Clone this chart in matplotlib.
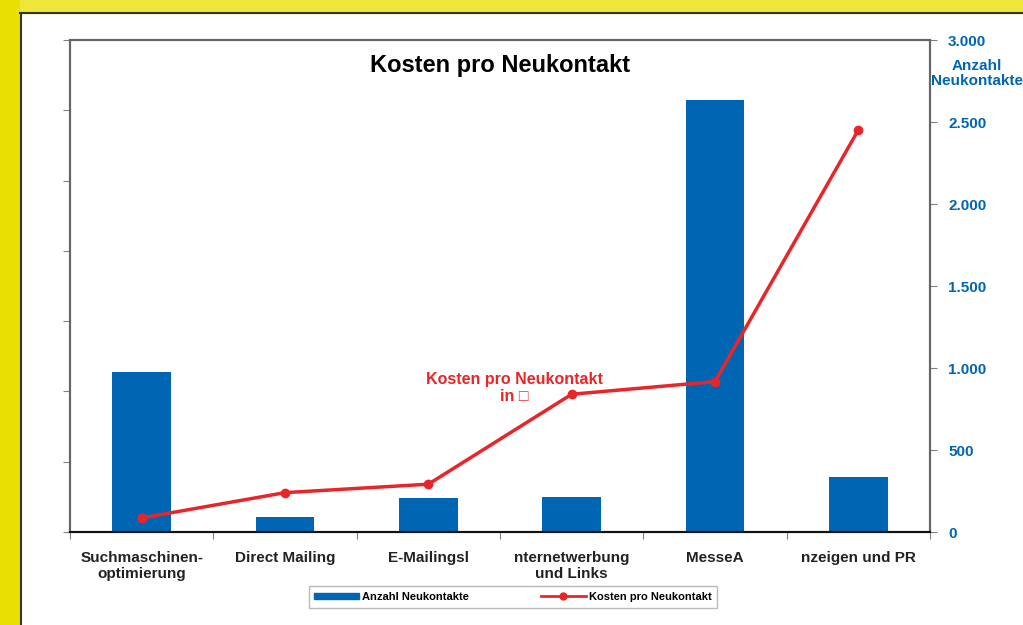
import matplotlib
matplotlib.use("Agg")
import matplotlib.pyplot as plt
from matplotlib.patches import Rectangle
from matplotlib.ticker import FuncFormatter, MultipleLocator

plt.rcParams["font.family"] = ["Liberation Sans", "DejaVu Sans"]

categories = ["Suchmaschinen-\noptimierung", "Direct Mailing", "E-Mailingsl",
              "nternetwerbung\nund Links", "MesseA", "nzeigen und PR"]
neukontakte = [978, 92, 208, 214, 2633, 336]
kosten = [10, 28, 34, 98, 107, 286]

blue = "#0066b3"
red = "#e8262a"

fig = plt.figure(figsize=(10.23, 6.25), dpi=100)

# yellow frame
fig.patches.append(Rectangle((0, 0), 20 / 1023, 1, transform=fig.transFigure,
                             color="#e8e000", zorder=0))
fig.patches.append(Rectangle((20 / 1023, 612 / 625), 1, 13 / 625, transform=fig.transFigure,
                             color="#efe63c", zorder=0))
fig.add_artist(plt.Line2D([20.5 / 1023, 20.5 / 1023], [0, 612 / 625], color="#333333", lw=1.5))
fig.add_artist(plt.Line2D([20 / 1023, 1], [612 / 625, 612 / 625], color="#333333", lw=1.5))

ax = fig.add_axes([70 / 1023, 1 - 532 / 625, 860 / 1023, 492 / 625])
ax2 = ax.twinx()

x = range(len(categories))
ax2.bar(x, neukontakte, width=0.41, color=blue, zorder=2)
ax2.set_ylim(0, 3000)
ax2.yaxis.set_major_locator(MultipleLocator(500))
ax2.yaxis.set_major_formatter(FuncFormatter(lambda v, p: f"{int(v):,}".replace(",", ".")))
ax2.tick_params(axis="y", colors="#808080", labelcolor=blue, labelsize=11, direction="out",
                length=5, pad=8)
for t in ax2.get_yticklabels():
    t.set_fontweight("bold")

ax.set_zorder(ax2.get_zorder() + 1)
ax.patch.set_visible(False)
ax.plot(x, kosten, color=red, lw=2.5, marker="o", markersize=6, zorder=3)
ax.set_ylim(0, 350)
ax.yaxis.set_major_locator(MultipleLocator(50))
ax.set_yticklabels([])
ax.tick_params(axis="y", colors="#808080", length=5, direction="out")

ax.set_xlim(-0.5, len(categories) - 0.5)
ax.set_xticks([i - 0.5 for i in range(len(categories) + 1)], minor=False)
ax.set_xticklabels([])
ax.set_xticks(list(x), minor=True)
ax.set_xticklabels(categories, minor=True, fontsize=11, fontweight="bold", color="#222222",
                   linespacing=1.1)
ax.tick_params(axis="x", which="major", length=5, colors="#808080")
ax.tick_params(axis="x", which="minor", length=0, pad=14)

for a in (ax, ax2):
    for s in a.spines.values():
        s.set_color("#666666")
        s.set_linewidth(1.5)
    a.spines["bottom"].set_color("#111111")

ax.set_title("Kosten pro Neukontakt", fontsize=17, fontweight="bold", pad=-23, y=1.0)
ax.text(1.055, 0.932, "Anzahl\nNeukontakte", transform=ax.transAxes,
        ha="center", va="center", fontsize=11, fontweight="bold", color=blue,
        linespacing=1.15, clip_on=False)
ax.text(2.6, 91, "Kosten pro Neukontakt\nin \u25a1", ha="center", va="bottom",
        fontsize=11.5, fontweight="bold", color=red, linespacing=1.2)

# legend
bar_h = Rectangle((0, 0), 1, 1, color=blue)
line_h = plt.Line2D([], [], color=red, lw=2, marker="o", markersize=5)
leg = fig.legend([bar_h, line_h], ["Anzahl Neukontakte", "Kosten pro Neukontakt"],
                 loc="center", bbox_to_anchor=(513 / 1023, 1 - 597 / 625), ncol=2,
                 frameon=True, fancybox=False, edgecolor="#aaaaaa",
                 handlelength=4, handleheight=0.5, handletextpad=0.3,
                 columnspacing=6.5, borderpad=0.5, borderaxespad=0,
                 prop={"weight": "bold", "size": 8})
leg.get_frame().set_linewidth(1)

fig.canvas.draw()
# stretch the legend frame to the wider box of the reference
bb = leg.get_frame().get_bbox()
leg.get_frame().set_bounds(272, bb.y0, 483, bb.height)

fig.savefig("out.png", dpi=100, facecolor="white")
